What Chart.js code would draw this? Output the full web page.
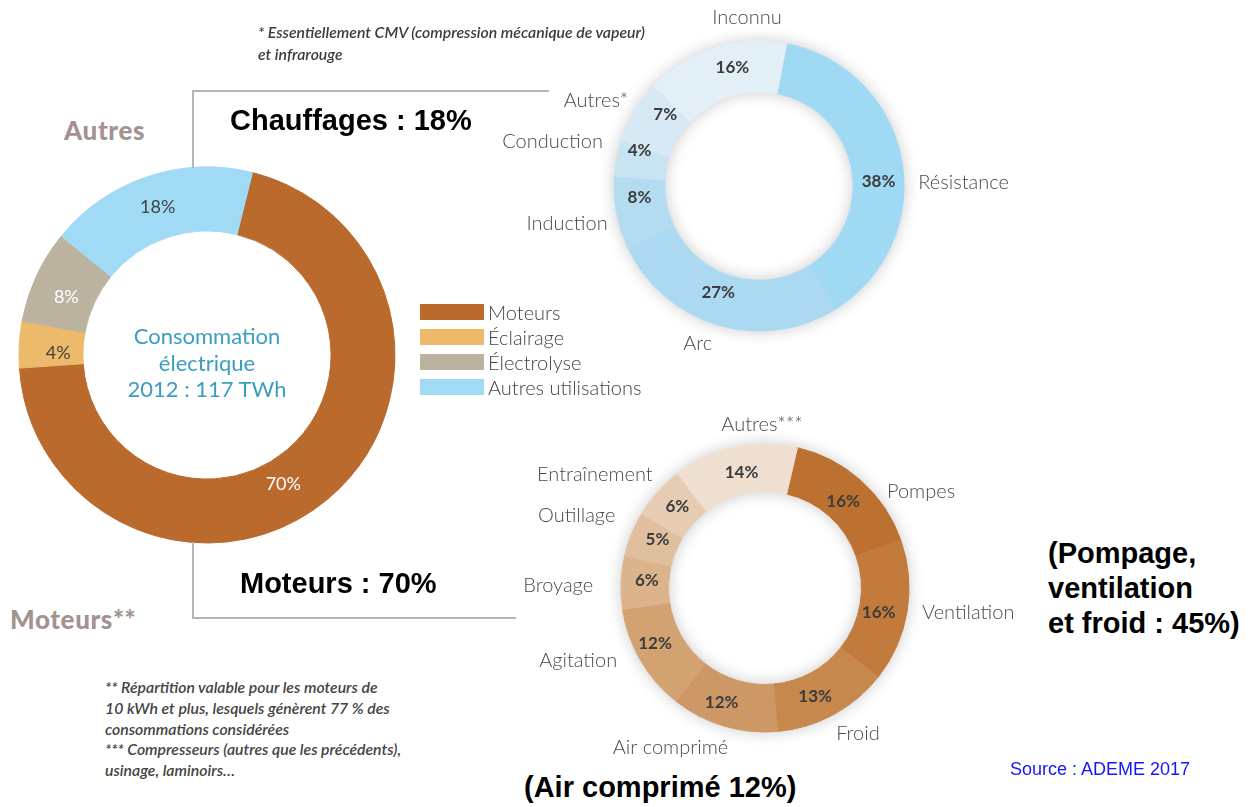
<!DOCTYPE html>
<html lang="fr">
<head>
<meta charset="utf-8">
<script src="https://cdn.jsdelivr.net/npm/chart.js@4.4.1/dist/chart.umd.min.js"></script>
<style>
  body { margin: 0; width: 1256px; height: 807px; background: #fff; position: relative; overflow: hidden; font-family: Lato, "Open Sans", sans-serif; }
  canvas, .t, .rule { position: absolute; }
  .rule { background: #b5b5b5; }
  .big { font-family: "Liberation Sans", Arial, sans-serif; font-weight: bold; font-size: 29px; color: #000; white-space: nowrap; }
  .side { font-weight: 900; font-size: 26px; letter-spacing: 0.6px; color: #a29390; }
  .note { font-style: italic; font-weight: 600; font-size: 15.8px; color: #3c3c3c; line-height: 20.8px; white-space: nowrap; }
  .centre { font-size: 22px; color: #3a9ec0; text-align: center; line-height: 26.5px; }
  .legend { left: 420px; top: 299px; font-size: 20px; font-weight: 300; color: #454545; }
  .legend div { display: flex; align-items: center; height: 25px; }
  .legend span.sw { display: inline-block; width: 64px; height: 16px; margin-right: 4px; }
</style>
</head>
<body>
<canvas id="usageChart" width="400" height="400" style="left:7px;top:155px"></canvas>
<canvas id="heatChart" width="522" height="368" style="left:498px;top:2px"></canvas>
<canvas id="motorChart" width="520" height="360" style="left:505px;top:408px"></canvas>

<div class="rule" style="left:192px;top:90px;width:357px;height:2px"></div>
<div class="rule" style="left:192px;top:90px;width:2px;height:78px"></div>
<div class="rule" style="left:192px;top:542px;width:2px;height:77px"></div>
<div class="rule" style="left:192px;top:617px;width:324px;height:2px"></div>

<div class="t note" style="left:258px;top:21px;width:392px;overflow:hidden;line-height:22px">* Essentiellement CMV (compression mécanique de vapeur)<br>et infrarouge</div>
<div class="t side" style="left:64px;top:114px">Autres</div>
<div class="t side" style="left:10px;top:603px">Moteurs**</div>
<div class="t big" style="left:230px;top:104px">Chauffages : 18%</div>
<div class="t big" style="left:240px;top:567px">Moteurs : 70%</div>
<div class="t big" style="left:1048px;top:536px;line-height:35px">(Pompage,<br>ventilation<br>et froid : 45%)</div>
<div class="t big" style="left:524px;top:771px">(Air comprimé 12%)</div>
<div class="t" style="left:1010px;top:759px;font-family:'Liberation Sans',Arial,sans-serif;font-size:18px;color:#1414ff">Source : ADEME 2017</div>
<div class="t centre" style="left:92px;top:323px;width:230px">Consommation<br>électrique<br>2012 : 117 TWh</div>
<div class="t note" style="left:105px;top:677px;color:#444">** Répartition valable pour les moteurs de<br>10 kWh et plus, lesquels génèrent 77 % des<br>consommations considérées<br>*** Compresseurs (autres que les précédents),<br>usinage, laminoirs…</div>
<div class="t legend" id="usageLegend"></div>

<script>
// consommation électrique de l'industrie, 2012
const usageLabels = ['Moteurs', 'Éclairage', 'Électrolyse', 'Autres utilisations'];
const usageShares = [70, 4, 8, 18];
const usageColors = ['#b96a2c', '#edb96a', '#bbb3a0', '#a0daf4'];

// chauffages
const heatLabels = ['Résistance', 'Arc', 'Induction', 'Conduction', 'Autres*', 'Inconnu'];
const heatShares = [38, 27, 8, 4, 7, 16];
const heatColors = ['#9fd9f4', '#aad9f1', '#b3dcf1', '#c8e3f1', '#d6e9f4', '#e3eff7'];

// moteurs
const motorLabels = ['Pompes', 'Ventilation', 'Froid', 'Air comprimé', 'Agitation', 'Broyage', 'Outillage', 'Entraînement', 'Autres***'];
const motorShares = [16, 16, 13, 12, 12, 6, 5, 6, 14];
const motorColors = ['#bd7131', '#c27b3d', '#c7884e', '#cd9865', '#d2a271', '#dbb48c', '#e0bf9e', '#e5ccb2', '#eedfd0'];

// writes the value inside each slice and, if given, the name outside it
const ringLabels = {
    id: 'ringLabels',
    beforeDatasetsDraw(chart, args, opts) {
        if (!opts.shadow) return;
        const arc = chart.getDatasetMeta(0).data[0];
        const ctx = chart.ctx;
        ctx.save();
        ctx.shadowColor = 'rgba(0,0,0,0.22)';
        ctx.shadowBlur = 16;
        ctx.fillStyle = '#fff';
        ctx.beginPath();
        ctx.arc(arc.x, arc.y, arc.outerRadius, 0, Math.PI * 2);
        ctx.arc(arc.x, arc.y, arc.innerRadius, 0, Math.PI * 2, true);
        ctx.fill();
        ctx.restore();
    },
    afterDatasetsDraw(chart, args, opts) {
        const ctx = chart.ctx;
        const values = chart.data.datasets[0].data;
        const names = chart.data.labels;
        chart.getDatasetMeta(0).data.forEach((arc, i) => {
            const mid = (arc.startAngle + arc.endAngle) / 2;
            const cos = Math.cos(mid), sin = Math.sin(mid);
            const rIn = (arc.innerRadius + arc.outerRadius) / 2;
            const vn = (opts.valueNudge && opts.valueNudge[i]) || [0, 0];
            ctx.save();
            ctx.textAlign = 'center';
            ctx.textBaseline = 'middle';
            ctx.font = opts.valueFont;
            ctx.fillStyle = Array.isArray(opts.valueColor) ? opts.valueColor[i] : opts.valueColor;
            ctx.fillText(values[i] + '%', arc.x + cos * rIn + vn[0], arc.y + sin * rIn + vn[1]);
            if (opts.showNames) {
                const rOut = arc.outerRadius + 12;
                const nn = (opts.nameNudge && opts.nameNudge[i]) || [0, 0];
                ctx.textAlign = cos > 0.35 ? 'left' : cos < -0.35 ? 'right' : 'center';
                ctx.font = opts.nameFont;
                ctx.fillStyle = '#4a4a4a';
                ctx.fillText(names[i], arc.x + cos * rOut + nn[0], arc.y + sin * rOut + nn[1]);
            }
            ctx.restore();
        });
    }
};

function ring(id, labels, values, colors, rotation, radius, cutout, labelOpts) {
    return new Chart(document.getElementById(id), {
        type: 'doughnut',
        data: {
            labels: labels,
            datasets: [{
                data: values,
                backgroundColor: colors,
                borderColor: colors,
                borderWidth: 1
            }]
        },
        options: {
            responsive: false,
            animation: false,
            rotation: rotation,
            radius: radius,
            cutout: cutout,
            plugins: {
                legend: { display: false },
                tooltip: { enabled: false },
                ringLabels: labelOpts
            }
        },
        plugins: [ringLabels]
    });
}

const usageChart = ring('usageChart', usageLabels, usageShares, usageColors, 14, 188, '66%', {
    valueFont: '18px Lato',
    valueColor: ['#ffffff', '#444444', '#ffffff', '#444444'],
    valueNudge: [[-24, 10], [7, 7], [1, 8], [0, 0]]
});

const heatChart = ring('heatChart', heatLabels, heatShares, heatColors, 11, 145, '65%', {
    shadow: true,
    showNames: true,
    valueFont: 'bold 17px Lato',
    valueColor: '#3b3b3b',
    nameFont: '300 20px Lato',
    valueNudge: [[2, 18], [-7, -8], [-2, -10], [-2, -13], [9, -10], [10, -5]],
    nameNudge: [[5, 25], [-17, 7], [3, 9], [-2, -14], [4, -5], [36, -19]]
});

const motorChart = ring('motorChart', motorLabels, motorShares, motorColors, 13, 144, '67%', {
    shadow: true,
    showNames: true,
    valueFont: 'bold 17px Lato',
    valueColor: '#3b3b3b',
    nameFont: '300 20px Lato',
    valueNudge: [[-2, 3], [-5, 5], [-7, 3], [-9, -1], [-6, -5], [2, -3], [4, -3], [2, -1], [2, 2]],
    nameNudge: [[18, 20], [3, -1], [-3, 8], [-50, 10], [-13, -6], [-16, 4], [-5, -14], [4, -9], [30, -11]]
});

// legend of the main ring
const legendBox = document.getElementById('usageLegend');
usageLabels.forEach((label, i) => {
    const row = document.createElement('div');
    row.innerHTML = '<span class="sw" style="background:' + usageColors[i] + '"></span>' + label;
    legendBox.appendChild(row);
});
</script>
</body>
</html>
